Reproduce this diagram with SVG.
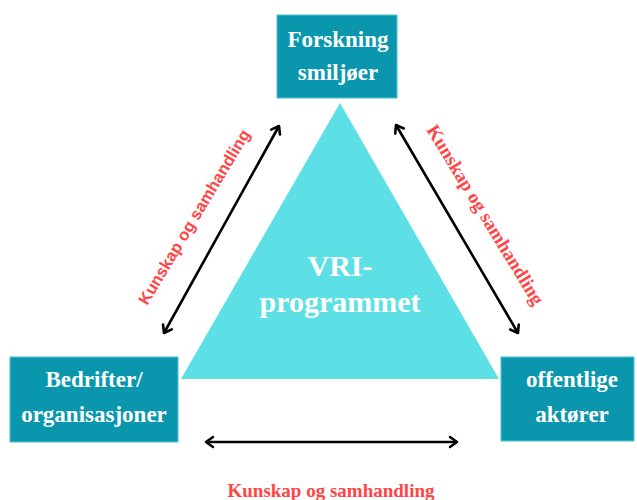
<svg xmlns="http://www.w3.org/2000/svg" width="637" height="500" viewBox="0 0 637 500">
<style>
.box{fill:#0A97AD;stroke:#4FC4D2;stroke-width:1}
.bt{font-family:"Liberation Serif","Times New Roman",serif;font-weight:bold;font-size:23px;fill:#fff;text-anchor:middle}
.lbl{fill:#FF4545;font-weight:bold;text-anchor:middle}
.ser{font-family:"Liberation Serif","Times New Roman",serif;font-size:19px}
.san{font-family:"Liberation Sans",Arial,sans-serif;font-size:16.5px}
.arr{stroke:#000;stroke-width:2.6;fill:none;marker-start:url(#ah);marker-end:url(#ah)}
</style>
<defs>
<marker id="ah" markerUnits="userSpaceOnUse" viewBox="0 0 12 12" refX="10" refY="6" markerWidth="12" markerHeight="12" orient="auto-start-reverse" overflow="visible">
<path d="M3,1 L10,6 L3,11" fill="none" stroke="#000" stroke-width="2.6" stroke-linecap="round" stroke-linejoin="round"/>
</marker>
</defs>
<rect width="637" height="500" fill="#fff"/>
<g id="triangle">
<polygon points="340,103 181,379 499,379" fill="#5CE0E5"/>
<text class="bt" x="340" y="276" style="font-size:30px">VRI-</text>
<text class="bt" x="340" y="312" style="font-size:30px">programmet</text>
</g>
<g id="forskning">
<rect class="box" x="277" y="15" width="120" height="83"/>
<text class="bt" x="338" y="47">Forskning</text>
<text class="bt" x="338" y="80">smiljøer</text>
</g>
<g id="bedrifter">
<rect class="box" x="10" y="357" width="168" height="85"/>
<text class="bt" x="94" y="387">Bedrifter/</text>
<text class="bt" x="94" y="422">organisasjoner</text>
</g>
<g id="offentlige">
<rect class="box" x="501" y="357" width="133" height="84"/>
<text class="bt" x="572" y="387">offentlige</text>
<text class="bt" x="572" y="422">aktører</text>
</g>
<g id="connectors">
<line class="arr" x1="164" y1="333" x2="279" y2="126"/>
<line class="arr" x1="396" y1="125" x2="518" y2="333"/>
<line class="arr" x1="206" y1="442" x2="457" y2="442"/>
<text class="lbl san" transform="translate(199,220) rotate(-59)">Kunskap og samhandling</text>
<text class="lbl ser" transform="translate(480,218) rotate(58.5)">Kunskap og samhandling</text>
<text class="lbl ser" x="331" y="497">Kunskap og samhandling</text>
</g>
</svg>
